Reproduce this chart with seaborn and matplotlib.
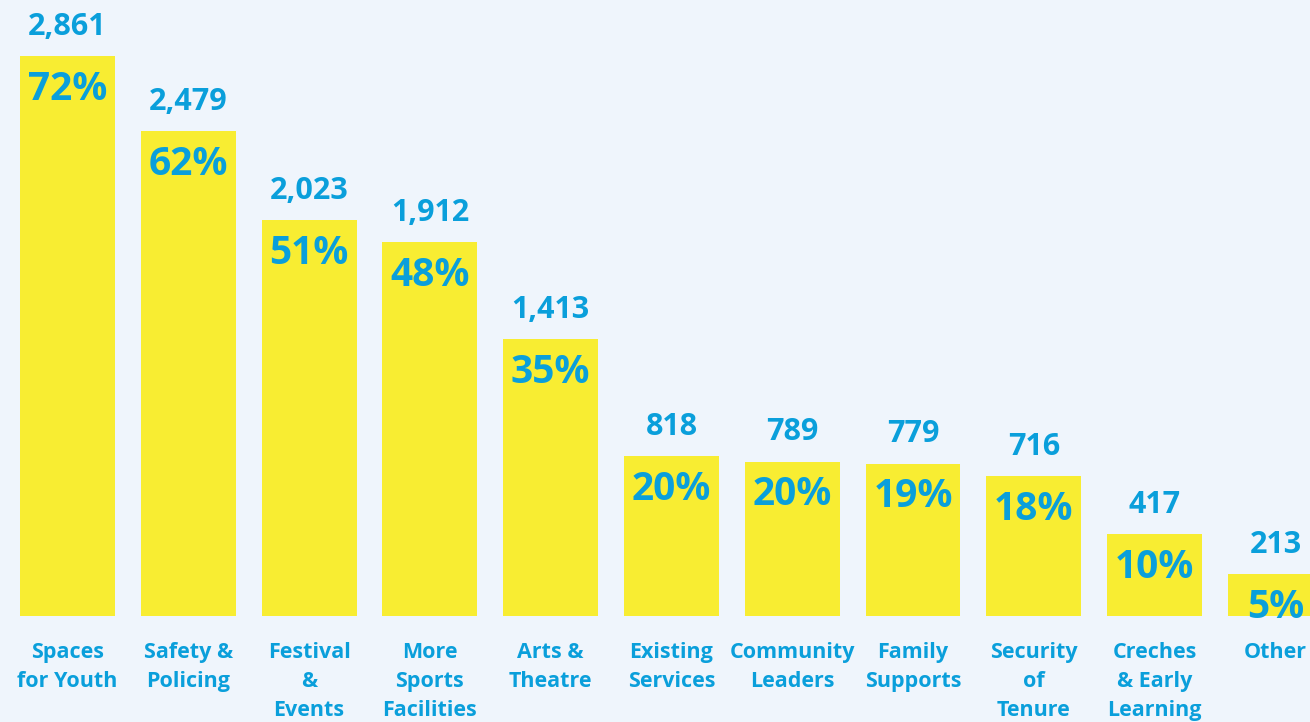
import matplotlib
matplotlib.use('Agg')
import matplotlib.pyplot as plt
import seaborn as sns
import pandas as pd

# データ
categories = ['Spaces\nfor Youth', 'Safety &\nPolicing', 'Festival\n&\nEvents',
              'More\nSports\nFacilities', 'Arts &\nTheatre', 'Existing\nServices',
              'Community\nLeaders', 'Family\nSupports', 'Security\nof\nTenure',
              'Creches\n& Early\nLearning', 'Other']
counts = [2861, 2479, 2023, 1912, 1413, 818, 789, 779, 716, 417, 213]
percents = [72, 62, 51, 48, 35, 20, 20, 19, 18, 10, 5]

bg = '#EFF5FC'
yellow = '#F8ED32'
blue = '#0A9FDB'

sns.set_theme(style='white')
plt.rcParams['font.family'] = ['Open Sans', 'DejaVu Sans']

df = pd.DataFrame({'category': categories, 'count': counts})

fig = plt.figure(figsize=(13.1, 7.22), dpi=100, facecolor=bg)
ax = fig.add_axes([0, 0, 1, 1])
ax.set_facecolor(bg)

sns.barplot(data=df, x='category', y='count', color=yellow, saturation=1,
            width=0.785, linewidth=0, edgecolor='none', ax=ax)

ax.set_xlim(-0.559, 10.286)
ax.set_ylim(-541.6, 3147)
ax.axis('off')

for i, (c, p, lab) in enumerate(zip(counts, percents, categories)):
    ax.annotate(f'{c:,}', (i, c), xytext=(0, 21), textcoords='offset points',
                ha='center', va='center', fontsize=22, fontweight='bold', color=blue)
    ax.annotate(f'{p}%', (i, c), xytext=(0, -24), textcoords='offset points',
                ha='center', va='center', fontsize=28, fontweight='bold', color=blue)
    ax.annotate(lab, (i, 0), xytext=(0, -19), textcoords='offset points',
                ha='center', va='top', fontsize=15.5, fontweight='bold', color=blue,
                linespacing=1.5)

plt.savefig('out.png', dpi=100, facecolor=bg)
